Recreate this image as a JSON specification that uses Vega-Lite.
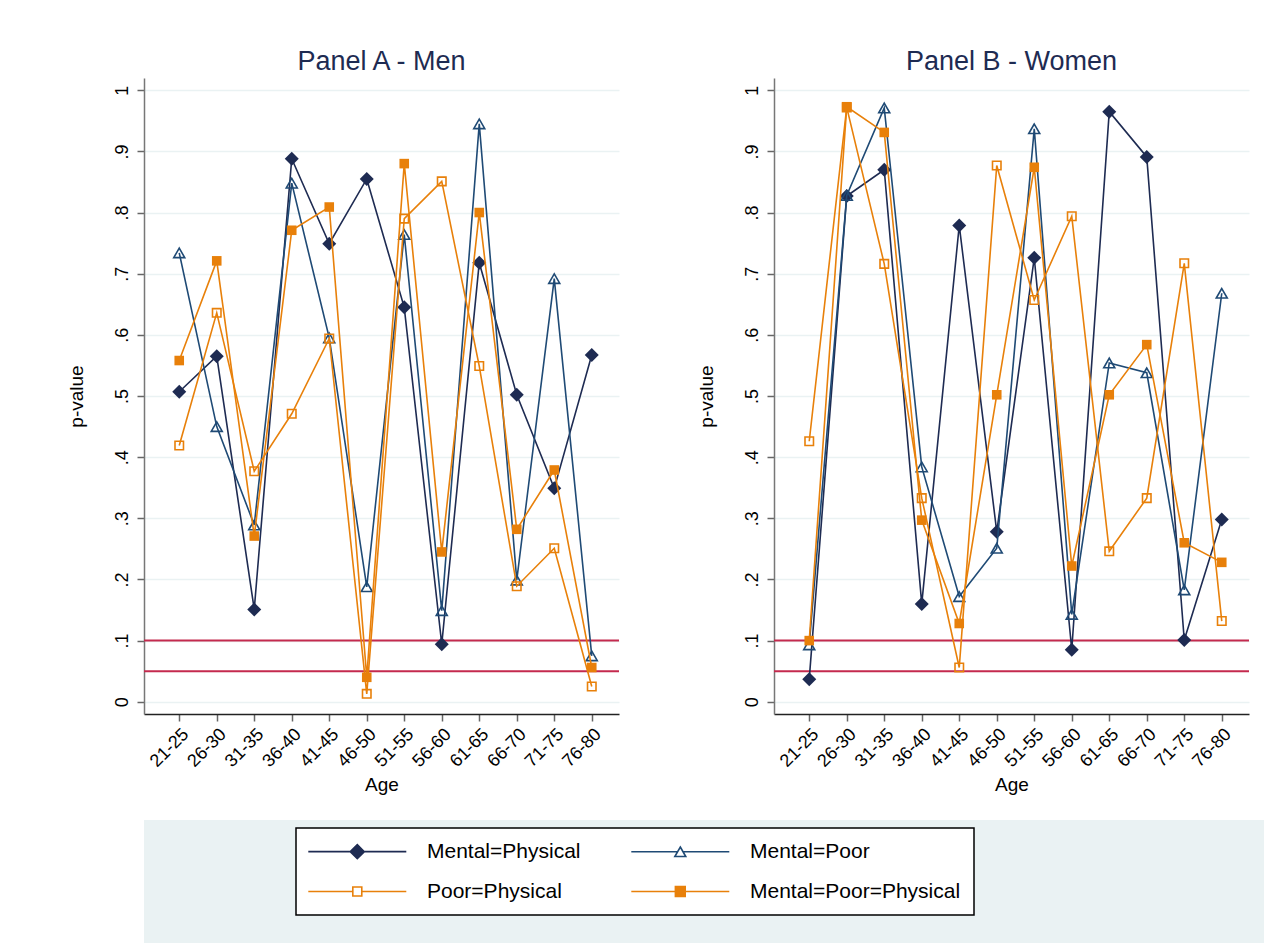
{
  "$schema": "https://vega.github.io/schema/vega-lite/v6.json",
  "background": "white",
  "padding": {"left": 67, "top": 48, "right": 0, "bottom": 0},
  "data": {"values": [
    {"panel": "Panel A - Men", "series": "Mental=Physical", "age": "21-25", "p": 0.507},
    {"panel": "Panel A - Men", "series": "Mental=Physical", "age": "26-30", "p": 0.565},
    {"panel": "Panel A - Men", "series": "Mental=Physical", "age": "31-35", "p": 0.151},
    {"panel": "Panel A - Men", "series": "Mental=Physical", "age": "36-40", "p": 0.888},
    {"panel": "Panel A - Men", "series": "Mental=Physical", "age": "41-45", "p": 0.749},
    {"panel": "Panel A - Men", "series": "Mental=Physical", "age": "46-50", "p": 0.855},
    {"panel": "Panel A - Men", "series": "Mental=Physical", "age": "51-55", "p": 0.645},
    {"panel": "Panel A - Men", "series": "Mental=Physical", "age": "56-60", "p": 0.094},
    {"panel": "Panel A - Men", "series": "Mental=Physical", "age": "61-65", "p": 0.718},
    {"panel": "Panel A - Men", "series": "Mental=Physical", "age": "66-70", "p": 0.502},
    {"panel": "Panel A - Men", "series": "Mental=Physical", "age": "71-75", "p": 0.349},
    {"panel": "Panel A - Men", "series": "Mental=Physical", "age": "76-80", "p": 0.567},
    {"panel": "Panel A - Men", "series": "Mental=Poor", "age": "21-25", "p": 0.734},
    {"panel": "Panel A - Men", "series": "Mental=Poor", "age": "26-30", "p": 0.450},
    {"panel": "Panel A - Men", "series": "Mental=Poor", "age": "31-35", "p": 0.289},
    {"panel": "Panel A - Men", "series": "Mental=Poor", "age": "36-40", "p": 0.848},
    {"panel": "Panel A - Men", "series": "Mental=Poor", "age": "41-45", "p": 0.595},
    {"panel": "Panel A - Men", "series": "Mental=Poor", "age": "46-50", "p": 0.188},
    {"panel": "Panel A - Men", "series": "Mental=Poor", "age": "51-55", "p": 0.764},
    {"panel": "Panel A - Men", "series": "Mental=Poor", "age": "56-60", "p": 0.149},
    {"panel": "Panel A - Men", "series": "Mental=Poor", "age": "61-65", "p": 0.945},
    {"panel": "Panel A - Men", "series": "Mental=Poor", "age": "66-70", "p": 0.199},
    {"panel": "Panel A - Men", "series": "Mental=Poor", "age": "71-75", "p": 0.692},
    {"panel": "Panel A - Men", "series": "Mental=Poor", "age": "76-80", "p": 0.075},
    {"panel": "Panel A - Men", "series": "Poor=Physical", "age": "21-25", "p": 0.419},
    {"panel": "Panel A - Men", "series": "Poor=Physical", "age": "26-30", "p": 0.636},
    {"panel": "Panel A - Men", "series": "Poor=Physical", "age": "31-35", "p": 0.377},
    {"panel": "Panel A - Men", "series": "Poor=Physical", "age": "36-40", "p": 0.471},
    {"panel": "Panel A - Men", "series": "Poor=Physical", "age": "41-45", "p": 0.594},
    {"panel": "Panel A - Men", "series": "Poor=Physical", "age": "46-50", "p": 0.013},
    {"panel": "Panel A - Men", "series": "Poor=Physical", "age": "51-55", "p": 0.790},
    {"panel": "Panel A - Men", "series": "Poor=Physical", "age": "56-60", "p": 0.851},
    {"panel": "Panel A - Men", "series": "Poor=Physical", "age": "61-65", "p": 0.549},
    {"panel": "Panel A - Men", "series": "Poor=Physical", "age": "66-70", "p": 0.189},
    {"panel": "Panel A - Men", "series": "Poor=Physical", "age": "71-75", "p": 0.251},
    {"panel": "Panel A - Men", "series": "Poor=Physical", "age": "76-80", "p": 0.025},
    {"panel": "Panel A - Men", "series": "Mental=Poor=Physical", "age": "21-25", "p": 0.558},
    {"panel": "Panel A - Men", "series": "Mental=Poor=Physical", "age": "26-30", "p": 0.721},
    {"panel": "Panel A - Men", "series": "Mental=Poor=Physical", "age": "31-35", "p": 0.271},
    {"panel": "Panel A - Men", "series": "Mental=Poor=Physical", "age": "36-40", "p": 0.771},
    {"panel": "Panel A - Men", "series": "Mental=Poor=Physical", "age": "41-45", "p": 0.809},
    {"panel": "Panel A - Men", "series": "Mental=Poor=Physical", "age": "46-50", "p": 0.040},
    {"panel": "Panel A - Men", "series": "Mental=Poor=Physical", "age": "51-55", "p": 0.880},
    {"panel": "Panel A - Men", "series": "Mental=Poor=Physical", "age": "56-60", "p": 0.245},
    {"panel": "Panel A - Men", "series": "Mental=Poor=Physical", "age": "61-65", "p": 0.800},
    {"panel": "Panel A - Men", "series": "Mental=Poor=Physical", "age": "66-70", "p": 0.282},
    {"panel": "Panel A - Men", "series": "Mental=Poor=Physical", "age": "71-75", "p": 0.379},
    {"panel": "Panel A - Men", "series": "Mental=Poor=Physical", "age": "76-80", "p": 0.056},
    {"panel": "Panel B - Women", "series": "Mental=Physical", "age": "21-25", "p": 0.037},
    {"panel": "Panel B - Women", "series": "Mental=Physical", "age": "26-30", "p": 0.827},
    {"panel": "Panel B - Women", "series": "Mental=Physical", "age": "31-35", "p": 0.870},
    {"panel": "Panel B - Women", "series": "Mental=Physical", "age": "36-40", "p": 0.160},
    {"panel": "Panel B - Women", "series": "Mental=Physical", "age": "41-45", "p": 0.779},
    {"panel": "Panel B - Women", "series": "Mental=Physical", "age": "46-50", "p": 0.278},
    {"panel": "Panel B - Women", "series": "Mental=Physical", "age": "51-55", "p": 0.726},
    {"panel": "Panel B - Women", "series": "Mental=Physical", "age": "56-60", "p": 0.085},
    {"panel": "Panel B - Women", "series": "Mental=Physical", "age": "61-65", "p": 0.965},
    {"panel": "Panel B - Women", "series": "Mental=Physical", "age": "66-70", "p": 0.891},
    {"panel": "Panel B - Women", "series": "Mental=Physical", "age": "71-75", "p": 0.101},
    {"panel": "Panel B - Women", "series": "Mental=Physical", "age": "76-80", "p": 0.298},
    {"panel": "Panel B - Women", "series": "Mental=Poor", "age": "21-25", "p": 0.093},
    {"panel": "Panel B - Women", "series": "Mental=Poor", "age": "26-30", "p": 0.828},
    {"panel": "Panel B - Women", "series": "Mental=Poor", "age": "31-35", "p": 0.971},
    {"panel": "Panel B - Women", "series": "Mental=Poor", "age": "36-40", "p": 0.384},
    {"panel": "Panel B - Women", "series": "Mental=Poor", "age": "41-45", "p": 0.172},
    {"panel": "Panel B - Women", "series": "Mental=Poor", "age": "46-50", "p": 0.251},
    {"panel": "Panel B - Women", "series": "Mental=Poor", "age": "51-55", "p": 0.937},
    {"panel": "Panel B - Women", "series": "Mental=Poor", "age": "56-60", "p": 0.143},
    {"panel": "Panel B - Women", "series": "Mental=Poor", "age": "61-65", "p": 0.554},
    {"panel": "Panel B - Women", "series": "Mental=Poor", "age": "66-70", "p": 0.538},
    {"panel": "Panel B - Women", "series": "Mental=Poor", "age": "71-75", "p": 0.183},
    {"panel": "Panel B - Women", "series": "Mental=Poor", "age": "76-80", "p": 0.668},
    {"panel": "Panel B - Women", "series": "Poor=Physical", "age": "21-25", "p": 0.426},
    {"panel": "Panel B - Women", "series": "Poor=Physical", "age": "26-30", "p": 0.972},
    {"panel": "Panel B - Women", "series": "Poor=Physical", "age": "31-35", "p": 0.716},
    {"panel": "Panel B - Women", "series": "Poor=Physical", "age": "36-40", "p": 0.333},
    {"panel": "Panel B - Women", "series": "Poor=Physical", "age": "41-45", "p": 0.056},
    {"panel": "Panel B - Women", "series": "Poor=Physical", "age": "46-50", "p": 0.877},
    {"panel": "Panel B - Women", "series": "Poor=Physical", "age": "51-55", "p": 0.657},
    {"panel": "Panel B - Women", "series": "Poor=Physical", "age": "56-60", "p": 0.794},
    {"panel": "Panel B - Women", "series": "Poor=Physical", "age": "61-65", "p": 0.246},
    {"panel": "Panel B - Women", "series": "Poor=Physical", "age": "66-70", "p": 0.333},
    {"panel": "Panel B - Women", "series": "Poor=Physical", "age": "71-75", "p": 0.717},
    {"panel": "Panel B - Women", "series": "Poor=Physical", "age": "76-80", "p": 0.132},
    {"panel": "Panel B - Women", "series": "Mental=Poor=Physical", "age": "21-25", "p": 0.100},
    {"panel": "Panel B - Women", "series": "Mental=Poor=Physical", "age": "26-30", "p": 0.973},
    {"panel": "Panel B - Women", "series": "Mental=Poor=Physical", "age": "31-35", "p": 0.931},
    {"panel": "Panel B - Women", "series": "Mental=Poor=Physical", "age": "36-40", "p": 0.297},
    {"panel": "Panel B - Women", "series": "Mental=Poor=Physical", "age": "41-45", "p": 0.128},
    {"panel": "Panel B - Women", "series": "Mental=Poor=Physical", "age": "46-50", "p": 0.502},
    {"panel": "Panel B - Women", "series": "Mental=Poor=Physical", "age": "51-55", "p": 0.874},
    {"panel": "Panel B - Women", "series": "Mental=Poor=Physical", "age": "56-60", "p": 0.222},
    {"panel": "Panel B - Women", "series": "Mental=Poor=Physical", "age": "61-65", "p": 0.502},
    {"panel": "Panel B - Women", "series": "Mental=Poor=Physical", "age": "66-70", "p": 0.584},
    {"panel": "Panel B - Women", "series": "Mental=Poor=Physical", "age": "71-75", "p": 0.260},
    {"panel": "Panel B - Women", "series": "Mental=Poor=Physical", "age": "76-80", "p": 0.228}
  ]},
  "spacing": 25,
  "align": "none",
  "vconcat": [
    {
      "facet": {"column": {"field": "panel", "type": "nominal", "title": null,
        "header": {"labelFontSize": 27, "labelColor": "#1E2B52", "labelFont": "Liberation Sans", "labelPadding": 2}}},
      "spacing": 77,
      "resolve": {"axis": {"y": "independent"}},
      "spec": {
        "width": 475,
        "height": 636,
        "encoding": {
          "x": {"field": "age", "type": "ordinal", "title": "Age",
            "scale": {"type": "point", "padding": 0.833, "align": 0.564},
            "axis": {"labelAngle": -45, "labelFontSize": 18, "labelColor": "black", "tickSize": 7, "tickColor": "#666666", "tickWidth": 1.5, "domainColor": "#222222", "domainWidth": 1.5, "grid": false, "titleFontSize": 19, "titleFontWeight": "normal", "titleColor": "black", "titlePadding": 5, "labelPadding": 4}},
          "y": {"field": "p", "type": "quantitative", "title": "p-value",
            "scale": {"domain": [-0.02, 1.02], "nice": false, "zero": false},
            "axis": {"values": [0, 0.1, 0.2, 0.3, 0.4, 0.5, 0.6, 0.7, 0.8, 0.9, 1],
              "labelExpr": "datum.value == 0 ? '0' : datum.value == 1 ? '1' : replace(format(datum.value, '.1f'), '0.', '.')",
              "labelAngle": -90, "labelFontSize": 18, "labelColor": "black", "labelPadding": 6,
              "tickSize": 7, "tickColor": "#666666", "tickWidth": 1.5, "domainColor": "#777777", "domainWidth": 1.5,
              "gridColor": "#EAF2F3", "gridWidth": 1.5,
              "titleFontSize": 19, "titleFontWeight": "normal", "titleColor": "black", "titlePadding": 27}}
        },
        "layer": [
          {"transform": [{"filter": "datum.age == '21-25' && datum.series == 'Mental=Physical'"}],
           "mark": {"type": "rule", "color": "#C42A4E", "strokeWidth": 2},
           "encoding": {"x": null, "y": {"datum": 0.1}}},
          {"transform": [{"filter": "datum.age == '21-25' && datum.series == 'Mental=Physical'"}],
           "mark": {"type": "rule", "color": "#C42A4E", "strokeWidth": 2},
           "encoding": {"x": null, "y": {"datum": 0.05}}},
          {"transform": [{"filter": "datum.series == 'Mental=Physical'"}],
           "mark": {"type": "line", "color": "#1E2B52", "strokeWidth": 1.6}},
          {"transform": [{"filter": "datum.series == 'Mental=Physical'"}],
           "mark": {"type": "point", "shape": "diamond", "filled": true, "color": "#1E2B52", "size": 196, "opacity": 1}},
          {"transform": [{"filter": "datum.series == 'Mental=Poor'"}],
           "mark": {"type": "line", "color": "#1F4A75", "strokeWidth": 1.6}},
          {"transform": [{"filter": "datum.series == 'Mental=Poor'"}],
           "mark": {"type": "point", "shape": "triangle-up", "filled": false, "color": "#1F4A75", "size": 121, "strokeWidth": 1.6, "opacity": 1}},
          {"transform": [{"filter": "datum.series == 'Poor=Physical'"}],
           "mark": {"type": "line", "color": "#E8800A", "strokeWidth": 1.6}},
          {"transform": [{"filter": "datum.series == 'Poor=Physical'"}],
           "mark": {"type": "point", "shape": "square", "filled": false, "color": "#E8800A", "size": 72, "strokeWidth": 1.6, "opacity": 1}},
          {"transform": [{"filter": "datum.series == 'Mental=Poor=Physical'"}],
           "mark": {"type": "line", "color": "#E8800A", "strokeWidth": 1.6}},
          {"transform": [{"filter": "datum.series == 'Mental=Poor=Physical'"}],
           "mark": {"type": "point", "shape": "square", "filled": true, "color": "#E8800A", "size": 92, "opacity": 1}},
          {"transform": [{"filter": "datum.series == 'none'"}],
           "mark": {"type": "point", "opacity": 1},
           "encoding": {
             "shape": {"field": "series", "type": "nominal", "title": null,
               "scale": {"domain": ["Mental=Physical", "Mental=Poor", "Poor=Physical", "Mental=Poor=Physical"],
                 "range": ["M-1.6,0H4.4M6.4,0H12.4M4.4,0L5.4,-1L6.4,0L5.4,1Z", "M-1.6,0H5.01M5.79,0H12.4M5.4,-0.68L6.18,0.68L4.62,0.68Z", "M-1.6,0H4.76M6.04,0H12.4M4.76,-0.64H6.04V0.64H4.76Z", "M-1.6,0H4.7M6.1,0H12.4M4.7,-0.7H6.1V0.7H4.7Z"]}},
             "stroke": {"field": "series", "type": "nominal", "title": null,
               "scale": {"domain": ["Mental=Physical", "Mental=Poor", "Poor=Physical", "Mental=Poor=Physical"],
                 "range": ["#1E2B52", "#1F4A75", "#E8800A", "#E8800A"]}},
             "fill": {"field": "series", "type": "nominal", "title": null,
               "scale": {"domain": ["Mental=Physical", "Mental=Poor", "Poor=Physical", "Mental=Poor=Physical"],
                 "range": ["#1E2B52", "white", "white", "#E8800A"]}}
           }}
        ]
      }
    },
    {
      "width": 1197,
      "height": 130,
      "view": {"fill": "#EAF2F3", "stroke": null},
      "transform": [{"filter": "datum.series == 'none'"}],
      "mark": {"type": "point", "opacity": 0}
    }
  ],
  "config": {
    "font": "Liberation Sans",
    "view": {"stroke": null},
    "legend": {
      "orient": "none", "legendX": 152, "legendY": 750, "direction": "horizontal",
      "columns": 2, "symbolSize": 196, "symbolStrokeWidth": 1.6, "symbolOpacity": 1,
      "labelFontSize": 21, "labelColor": "black", "labelOffset": 97, "labelLimit": 400,
      "columnPadding": 47, "rowPadding": 18, "padding": 13,
      "fillColor": "white", "strokeColor": "black", "strokeWidth": 1.5
    }
  }
}
